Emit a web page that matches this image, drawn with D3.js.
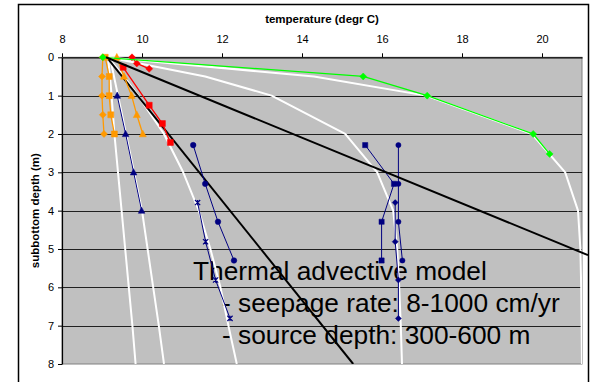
<!DOCTYPE html>
<html>
<head>
<meta charset="utf-8">
<script src="https://cdn.jsdelivr.net/npm/d3@7"></script>
<style>
  html, body { margin: 0; padding: 0; background: #fff; }
  svg { display: block; font-family: "Liberation Sans", Arial, sans-serif; }
</style>
</head>
<body>
<svg id="chart" width="596" height="382"></svg>
<script>
// ---------- data ----------
const xTicks = [8, 10, 12, 14, 16, 18, 20];
const yTicks = [0, 1, 2, 3, 4, 5, 6, 7, 8];
const xTitle = "temperature (degr C)";
const yTitle = "subbottom depth (m)";
const noteLines = ["Thermal advective model", "- seepage rate: 8-1000 cm/yr", "- source depth: 300-600 m"];

// model curves (white)
const modelDepth = [0, 0.5, 1, 2, 3, 4, 5, 6, 7, 8];
const model1Temp = [9.1, 14.3, 17.1, 19.75, 20.58, 20.9, 20.96, 20.98, 20.99, 21.0];
const model2Temp = [9.15, 11.58, 13.24, 15.08, 15.88, 16.28, 16.38, 16.43, 16.47, 16.5];
const model3Temp = [9.15, 9.55, 9.9, 10.55, 11.03, 11.42, 11.71, 11.96, 12.16, 12.37];
const model4Temp = [9.2, 9.3, 9.4, 9.6, 9.8, 10.0, 10.14, 10.28, 10.42, 10.55];
const model5Temp = [9.15, 9.2, 9.24, 9.31, 9.4, 9.49, 9.58, 9.67, 9.76, 9.84];

// straight gradient lines (black)
const lineADepth = [0, 8];
const lineATemp = [9.12, 15.28];
const lineBDepth = [0, 5.16];
const lineBTemp = [9.1, 21.15];

// measured profiles
const greenDepth = [0, 0.5, 1.0, 2.0, 2.52];
const greenTemp = [9.02, 15.53, 17.13, 19.78, 20.19];

const orangeDepth = [0, 0.5, 1.0, 1.5, 2.0];
const orangeDiamondTemp = [9.02, 9.0, 9.0, 9.02, 9.05];
const orangeSquareTemp = [9.08, 9.18, 9.18, 9.22, 9.31];
const orangeTriangleTemp = [9.37, 9.55, 9.74, 9.87, 10.02];

const redDiamondDepth = [0, 0.16, 0.3];
const redDiamondTemp = [9.75, 9.87, 10.18];
const redSquareDepth = [0.26, 1.25, 1.73, 2.22];
const redSquareTemp = [9.53, 10.18, 10.51, 10.71];

const navyTriangleDepth = [1, 2, 3, 4];
const navyTriangleTemp = [9.38, 9.59, 9.79, 9.99];

const navyUpperDepth = [2.29, 3.3, 4.29, 5.3];
const navyLowerDepth = [3.79, 4.81, 5.81, 6.81];
const navyCircleATemp = [11.28, 11.58, 11.9, 12.3];
const navyStarATemp = [11.39, 11.59, 11.84, 12.2];
const navySquareBTemp = [15.58, 16.3, 15.99, 15.99];
const navyCircleBTemp = [16.41, 16.41, 16.41, 16.51];
const navyDiamondBTemp = [16.33, 16.33, 16.41, 16.41];

// ---------- layout ----------
const svg = d3.select("#chart");
const plot = { left: 62, right: 582, top: 57.3, bottom: 364 };
const x = d3.scaleLinear().domain([8, 21]).range([plot.left, plot.right]);
const y = d3.scaleLinear().domain([0, 8]).range([plot.top, plot.bottom]);

// outer frame
svg.append("rect").attr("x", 18.5).attr("y", 4.5).attr("width", 570).attr("height", 400)
  .attr("fill", "#fff").attr("stroke", "#000").attr("stroke-width", 1.5);

// plot background
svg.append("rect").attr("x", plot.left).attr("y", plot.top)
  .attr("width", plot.right - plot.left).attr("height", plot.bottom - plot.top)
  .attr("fill", "#c0c0c0").attr("stroke", "#808080").attr("stroke-width", 1);

// gridlines
svg.append("g").selectAll("line").data(yTicks.filter(d => d > 0 && d < 8)).join("line")
  .attr("x1", plot.left).attr("x2", plot.right)
  .attr("y1", d => Math.round(y(d)) + 0.5).attr("y2", d => Math.round(y(d)) + 0.5)
  .attr("stroke", "#202020").attr("stroke-width", 1);

// axes
const xAxis = d3.axisTop(x).tickValues(xTicks).tickSize(4).tickSizeOuter(0).tickPadding(10)
  .tickFormat(d3.format("d"));
const gx = svg.append("g").attr("transform", `translate(0,${plot.top})`).call(xAxis);
const yAxis = d3.axisLeft(y).tickValues(yTicks).tickSize(4).tickSizeOuter(0).tickPadding(4)
  .tickFormat(d3.format("d"));
const gy = svg.append("g").attr("transform", `translate(${plot.left},0)`).call(yAxis);
[gx, gy].forEach(g => {
  g.select(".domain").attr("stroke", "#000").attr("stroke-width", 1.2);
  g.selectAll(".tick line").attr("stroke", "#000");
  g.selectAll(".tick text").attr("font-size", 11).attr("fill", "#000")
    .attr("font-family", "'Liberation Sans', Arial, sans-serif");
});

// titles
svg.append("text").attr("x", (plot.left + plot.right) / 2).attr("y", 23)
  .attr("text-anchor", "middle").attr("font-size", 11.5).attr("font-weight", "bold")
  .text(xTitle);
svg.append("text").attr("transform", `translate(39,${(plot.top + plot.bottom) / 2}) rotate(-90)`)
  .attr("text-anchor", "middle").attr("font-size", 11.5).attr("font-weight", "bold")
  .text(yTitle);

// annotation text
const note = svg.append("g").attr("font-size", 26.3).attr("fill", "#000");
const noteX = [193, 222, 222];
const noteY = [280, 312, 344];
noteLines.forEach((t, i) => {
  note.append("text").attr("x", noteX[i]).attr("y", noteY[i]).text(t);
});

// clip for data
svg.append("clipPath").attr("id", "clip").append("rect")
  .attr("x", plot.left).attr("y", plot.top - 6)
  .attr("width", plot.right - plot.left).attr("height", plot.bottom - plot.top + 6);
const g = svg.append("g").attr("clip-path", "url(#clip)");
const gFree = svg.append("g");

const line = d3.line().x(d => x(d[0])).y(d => y(d[1]));
const zip = (t, dp) => t.map((v, i) => [v, dp[i]]);

function drawLine(temps, depths, color, width, layer) {
  (layer || g).append("path").datum(zip(temps, depths)).attr("d", line)
    .attr("fill", "none").attr("stroke", color).attr("stroke-width", width)
    .attr("stroke-linejoin", "round");
}

function markerPath(type, r) {
  switch (type) {
    case "diamond": return `M0,${-r}L${r},0L0,${r}L${-r},0Z`;
    case "square": return `M${-r},${-r}H${r}V${r}H${-r}Z`;
    case "triangle": return `M0,${-r * 1.1}L${r},${r * 0.8}L${-r},${r * 0.8}Z`;
    case "circle": return d3.arc()({ innerRadius: 0, outerRadius: r, startAngle: 0, endAngle: 2 * Math.PI });
    case "star": return `M${-r},${-r}L${r},${r}M${-r},${r}L${r},${-r}M0,${-r}V${r}`;
  }
}

function drawMarkers(temps, depths, color, type, r) {
  g.append("g").selectAll("path").data(zip(temps, depths)).join("path")
    .attr("transform", d => `translate(${x(d[0])},${y(d[1])})`)
    .attr("d", markerPath(type, r))
    .attr("fill", type === "star" ? "none" : color)
    .attr("stroke", color).attr("stroke-width", type === "star" ? 1.2 : 0.5);
}

function series(temps, depths, color, width, type, r) {
  drawLine(temps, depths, color, width);
  drawMarkers(temps, depths, color, type, r);
}

// model curves
[model5Temp, model4Temp, model3Temp, model2Temp, model1Temp].forEach(t =>
  drawLine(t, modelDepth, "#ffffff", 2));

// gradient lines
drawLine(lineATemp, lineADepth, "#000000", 2);
drawLine(lineBTemp, lineBDepth, "#000000", 2, gFree);

// measured data
series(orangeDiamondTemp, orangeDepth, "#ff9900", 1.3, "diamond", 3.5);
series(orangeSquareTemp, orangeDepth, "#ff9900", 1.3, "square", 3);
series(orangeTriangleTemp, orangeDepth, "#ff9900", 1.3, "triangle", 3.5);
series(redDiamondTemp, redDiamondDepth, "#ff0000", 1.3, "diamond", 3.5);
series(redSquareTemp, redSquareDepth, "#ff0000", 1.3, "square", 3);
series(navyTriangleTemp, navyTriangleDepth, "#000080", 1, "triangle", 3.3);
series(navyCircleATemp, navyUpperDepth, "#000080", 1, "circle", 2.8);
series(navyStarATemp, navyLowerDepth, "#000080", 1, "star", 2.6);
series(navySquareBTemp, navyUpperDepth, "#000080", 1, "square", 2.6);
series(navyCircleBTemp, navyUpperDepth, "#000080", 1, "circle", 2.6);
series(navyDiamondBTemp, navyLowerDepth, "#000080", 1, "diamond", 3);
series(greenTemp, greenDepth, "#00ff00", 1.3, "diamond", 3.5);
</script>
</body>
</html>
